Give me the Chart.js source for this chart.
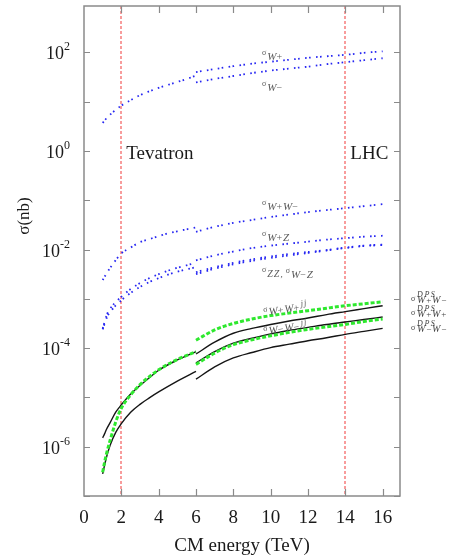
<!DOCTYPE html>
<html><head><meta charset="utf-8">
<script src="https://cdn.jsdelivr.net/npm/chart.js@4/dist/chart.umd.min.js"></script>
<style>html,body{margin:0;padding:0;background:#fff}canvas{display:block}</style>
</head><body>
<canvas id="c" width="456" height="555"></canvas>
<script>
// ---------- data (sigma in nb, energies in TeV) ----------
const tevE  = [1, 1.25, 1.5, 2, 2.5, 3, 3.5, 4, 4.5, 5, 5.5, 6];
const tevE2 = [1, 1.1, 1.2, 1.4, 1.7, 2, 2.5, 3, 3.5, 4, 5, 6];
const lhcE  = [6, 7, 8, 9, 10, 11, 12, 13, 14, 15, 16];

const tevW   = [3.72, 4.79, 5.89, 8.32, 10.7, 13.5, 16.2, 19.1, 21.9, 25.1, 28.8, 33.9];
const lhcWp  = [39.8, 45.7, 52.5, 58.9, 64.6, 70.8, 77.6, 83.2, 89.1, 97.7, 104.7];
const lhcWm  = [24.5, 28.8, 33.1, 38.0, 42.7, 46.8, 51.3, 57.5, 63.1, 69.2, 75.9];

const tevWW  = [0.00240, 0.00347, 0.00479, 0.00832, 0.01096, 0.01413, 0.01622, 0.01862, 0.02138, 0.02344, 0.02570, 0.02818];
const lhcWW  = [0.02291, 0.02884, 0.03467, 0.03981, 0.04571, 0.05129, 0.05754, 0.06310, 0.06918, 0.07586, 0.08318];

const tevWZ  = [2.51e-4, 5.01e-4, 7.08e-4, 1.10e-3, 1.58e-3, 2.09e-3, 2.63e-3, 3.16e-3, 3.72e-3, 4.27e-3, 4.79e-3, 5.37e-3];
const tevZZ  = [2.40e-4, 4.37e-4, 6.03e-4, 9.33e-4, 1.32e-3, 1.74e-3, 2.19e-3, 2.63e-3, 3.09e-3, 3.55e-3, 3.98e-3, 4.37e-3];
const lhcWpZ = [6.03e-3, 7.59e-3, 9.12e-3, 1.072e-2, 1.202e-2, 1.318e-2, 1.445e-2, 1.585e-2, 1.698e-2, 1.820e-2, 1.905e-2];
const lhcZZ  = [3.16e-3, 4.07e-3, 5.01e-3, 5.89e-3, 6.76e-3, 7.59e-3, 8.51e-3, 9.55e-3, 1.072e-2, 1.175e-2, 1.230e-2];
const lhcWmZ = [3.47e-3, 4.37e-3, 5.37e-3, 6.31e-3, 7.24e-3, 8.13e-3, 8.91e-3, 9.77e-3, 1.096e-2, 1.202e-2, 1.259e-2];

const tevDpsOS = [1.51e-6, 1.82e-6, 2.24e-6, 3.09e-6, 5.01e-6, 7.08e-6, 1.175e-5, 1.74e-5, 2.51e-5, 3.55e-5, 5.75e-5, 8.51e-5];
const tevDpsSS = [2.82e-7, 4.17e-7, 6.03e-7, 1.07e-6, 1.95e-6, 2.95e-6, 5.01e-6, 7.24e-6, 9.77e-6, 1.29e-5, 2.14e-5, 3.39e-5];
const tevJJ    = [3.02e-7, 4.79e-7, 7.08e-7, 1.35e-6, 3.16e-6, 6.03e-6, 1.122e-5, 1.82e-5, 2.63e-5, 3.63e-5, 5.89e-5, 8.51e-5];

const lhcPPjj  = [1.445e-4, 2.34e-4, 3.16e-4, 3.89e-4, 4.57e-4, 5.13e-4, 5.75e-4, 6.46e-4, 7.24e-4, 7.94e-4, 8.71e-4];
const lhcMMjj  = [4.68e-5, 7.94e-5, 1.175e-4, 1.479e-4, 1.778e-4, 2.09e-4, 2.40e-4, 2.69e-4, 3.02e-4, 3.47e-4, 3.89e-4];
const lhcDpsPM = [7.59e-5, 1.318e-4, 2.00e-4, 2.51e-4, 3.02e-4, 3.55e-4, 4.07e-4, 4.79e-4, 5.50e-4, 6.31e-4, 7.24e-4];
const lhcDpsPP = [5.01e-5, 8.51e-5, 1.259e-4, 1.585e-4, 1.95e-4, 2.29e-4, 2.63e-4, 3.02e-4, 3.39e-4, 3.80e-4, 4.27e-4];
const lhcDpsMM = [2.34e-5, 4.17e-5, 6.31e-5, 8.13e-5, 1.023e-4, 1.202e-4, 1.413e-4, 1.622e-4, 1.905e-4, 2.19e-4, 2.51e-4];

const xTicks = [0, 2, 4, 6, 8, 10, 12, 14, 16];
const yTickExps = [-7, -6, -5, -4, -3, -2, -1, 0, 1, 2];
const yLabelExps = [-6, -4, -2, 0, 2];
const colliders = [2, 14];
const colliderNames = ['Tevatron', 'LHC'];

// ---------- styles ----------
const FONT = '"Liberation Serif","Times New Roman",serif';
const blue = {borderColor: '#2626f2', borderWidth: 1.8, borderDash: [1.6, 2.4, 1.6, 5.4], order: 2};
const black = {borderColor: '#151515', borderWidth: 1.4, order: 1};
const green = {borderColor: '#2ee82e', borderWidth: 3, borderDash: [4, 2], order: 0};

function mk(xs, ys, st) {
  return Object.assign({data: xs.map((e, i) => ({x: e, y: ys[i]})), pointRadius: 0, fill: false,
    cubicInterpolationMode: 'monotone'}, st);
}

const datasets = [
  mk(tevE, tevW, blue), mk(lhcE, lhcWp, blue), mk(lhcE, lhcWm, blue),
  mk(tevE, tevWW, blue), mk(lhcE, lhcWW, blue),
  mk(tevE, tevWZ, blue), mk(tevE, tevZZ, blue),
  mk(lhcE, lhcWpZ, blue), mk(lhcE, lhcZZ, blue), mk(lhcE, lhcWmZ, blue),
  mk(tevE2, tevDpsOS, black), mk(tevE2, tevDpsSS, black),
  mk(lhcE, lhcDpsPM, black), mk(lhcE, lhcDpsPP, black), mk(lhcE, lhcDpsMM, black),
  mk(tevE2, tevJJ, green), mk(lhcE, lhcPPjj, green), mk(lhcE, lhcMMjj, green)
];

// draw a run of text pieces: {t, s, dy, it, ls}
function runs(ctx, x, yb, parts, color) {
  ctx.fillStyle = color || '#555';
  ctx.textAlign = 'left'; ctx.textBaseline = 'alphabetic';
  let cx = x;
  parts.forEach(p => {
    ctx.font = (p.it ? 'italic ' : '') + p.s + 'px ' + FONT;
    if (p.gap) cx += p.gap;
    const ls = p.ls || 0;
    for (const ch of p.t) {
      ctx.fillText(ch, cx, yb + (p.dy || 0));
      cx += ctx.measureText(ch).width + ls;
    }
  });
  return cx;
}

const deco = {
  id: 'deco',
  beforeDatasetsDraw(chart) {
    const {ctx, chartArea: a, scales: {x}} = chart;
    ctx.save();
    ctx.strokeStyle = 'rgb(244,104,104)'; ctx.lineWidth = 1.3; ctx.setLineDash([3, 2]);
    colliders.forEach(v => {
      const px = Math.round(x.getPixelForValue(v));
      ctx.beginPath(); ctx.moveTo(px, a.top); ctx.lineTo(px, a.bottom); ctx.stroke();
    });
    ctx.restore();
  },
  afterDatasetsDraw(chart) {
    const {ctx, chartArea: a, scales: {x, y}} = chart;
    ctx.save();
    // frame
    ctx.strokeStyle = '#8a8a8a'; ctx.lineWidth = 1.5;
    ctx.strokeRect(a.left, a.top, a.right - a.left, a.bottom - a.top);
    // ticks
    ctx.lineWidth = 1.2;
    ctx.beginPath();
    xTicks.forEach(v => {
      if (v === 0) return;
      const px = Math.round(x.getPixelForValue(v)) + 0.5;
      ctx.moveTo(px, a.bottom); ctx.lineTo(px, a.bottom - 7);
      ctx.moveTo(px, a.top); ctx.lineTo(px, a.top + 7);
    });
    yTickExps.forEach(e => {
      const py = Math.round(y.getPixelForValue(Math.pow(10, e))) + 0.5;
      ctx.moveTo(a.left, py); ctx.lineTo(a.left + 6, py);
      ctx.moveTo(a.right, py); ctx.lineTo(a.right - 6, py);
    });
    ctx.stroke();

    // x tick labels
    ctx.fillStyle = '#1a1a1a';
    ctx.font = '19px ' + FONT;
    ctx.textAlign = 'center'; ctx.textBaseline = 'alphabetic';
    xTicks.forEach(v => ctx.fillText(String(v), x.getPixelForValue(v), a.bottom + 27));
    // x title
    ctx.fillText('CM energy (TeV)', (a.left + a.right) / 2, 551);

    // y tick labels 10^e, right aligned
    yLabelExps.forEach(e => {
      const py = y.getPixelForValue(Math.pow(10, e));
      const ex = e < 0 ? '-' + (-e) : String(e);
      ctx.font = '12px ' + FONT;
      const we = ctx.measureText(ex).width;
      ctx.font = '18px ' + FONT;
      const wb = ctx.measureText('10').width;
      const right = 70;
      ctx.textAlign = 'left';
      ctx.fillText('10', right - we - wb, py + 7);
      ctx.font = '12px ' + FONT;
      ctx.fillText(ex, right - we, py - 2);
    });
    // y title
    ctx.save();
    ctx.translate(25, 216); ctx.rotate(-Math.PI / 2);
    ctx.font = '17px ' + FONT; ctx.textAlign = 'center'; ctx.textBaseline = 'middle';
    ctx.fillText('σ(nb)', 0, 0);
    ctx.restore();

    // collider names
    ctx.font = '19px ' + FONT; ctx.textAlign = 'left'; ctx.fillStyle = '#1a1a1a';
    colliders.forEach((v, i) => ctx.fillText(colliderNames[i], x.getPixelForValue(v) + 5, y.getPixelForValue(1) + 8));

    // curve labels
    const C = '#5a5a5a';
    runs(ctx, 262, 60, [{t: 'σ', s: 8, dy: -5}, {t: 'W', s: 11, it: true, gap: 1}, {t: '+', s: 10}], C);
    runs(ctx, 262, 91, [{t: 'σ', s: 8, dy: -5}, {t: 'W', s: 11, it: true, gap: 1}, {t: '−', s: 10}], C);
    runs(ctx, 262, 210, [{t: 'σ', s: 8, dy: -5}, {t: 'W', s: 11, it: true, gap: 1}, {t: '+', s: 10, ls: 1}, {t: 'W', s: 11, it: true}, {t: '−', s: 10}], C);
    runs(ctx, 262, 241, [{t: 'σ', s: 8, dy: -5}, {t: 'W', s: 11, it: true, gap: 1}, {t: '+', s: 10, ls: 1}, {t: 'Z', s: 11, it: true}], C);
    let cx = runs(ctx, 262, 277, [{t: 'σ', s: 8, dy: -5}, {t: 'ZZ', s: 10, it: true, gap: 1, ls: 1}, {t: ',', s: 9}], C);
    runs(ctx, cx + 3, 278, [{t: 'σ', s: 8, dy: -5}, {t: 'W', s: 11, it: true, gap: 1}, {t: '−', s: 10, ls: 1}, {t: 'Z', s: 11, it: true}], C);

    // rotated jj labels
    [[264, 316, '+'], [264, 335, '−']].forEach(([lx, ly, sg]) => {
      ctx.save();
      ctx.translate(lx, ly); ctx.rotate(-0.15);
      runs(ctx, 0, 0, [{t: 'σ', s: 8, dy: -4}, {t: 'W', s: 11, it: true, gap: 1}, {t: sg, s: 10, ls: 1},
        {t: 'W', s: 11, it: true}, {t: sg, s: 10}, {t: 'jj', s: 9, it: true, dy: -4, gap: 2, ls: 1}], C);
      ctx.restore();
    });

    // DPS labels on the right
    [[303, '+', '−'], [317, '+', '+'], [332, '−', '−']].forEach(([yb, s1, s2]) => {
      runs(ctx, 411, yb - 2, [{t: 'σ', s: 8}], '#444');
      runs(ctx, 417, yb - 6, [{t: 'DPS', s: 8, it: true, ls: 1.6}], '#444');
      runs(ctx, 417, yb, [{t: 'W', s: 10, it: true, ls: 0.8}, {t: s1, s: 9, ls: 0.8}, {t: 'W', s: 10, it: true, ls: 0.8}, {t: s2, s: 9}], '#444');
    });
    ctx.restore();
  }
};

new Chart(document.getElementById('c'), {
  type: 'line',
  data: {datasets},
  options: {
    responsive: false, animation: false, devicePixelRatio: 1,
    layout: {padding: {left: 84, right: 56, top: 6, bottom: 59}},
    plugins: {legend: {display: false}, tooltip: {enabled: false}},
    scales: {
      x: {type: 'linear', min: 0, max: 16.93, display: false},
      y: {type: 'logarithmic', min: 1e-7, max: 871, display: false}
    }
  },
  plugins: [deco]
});
</script>
</body></html>
